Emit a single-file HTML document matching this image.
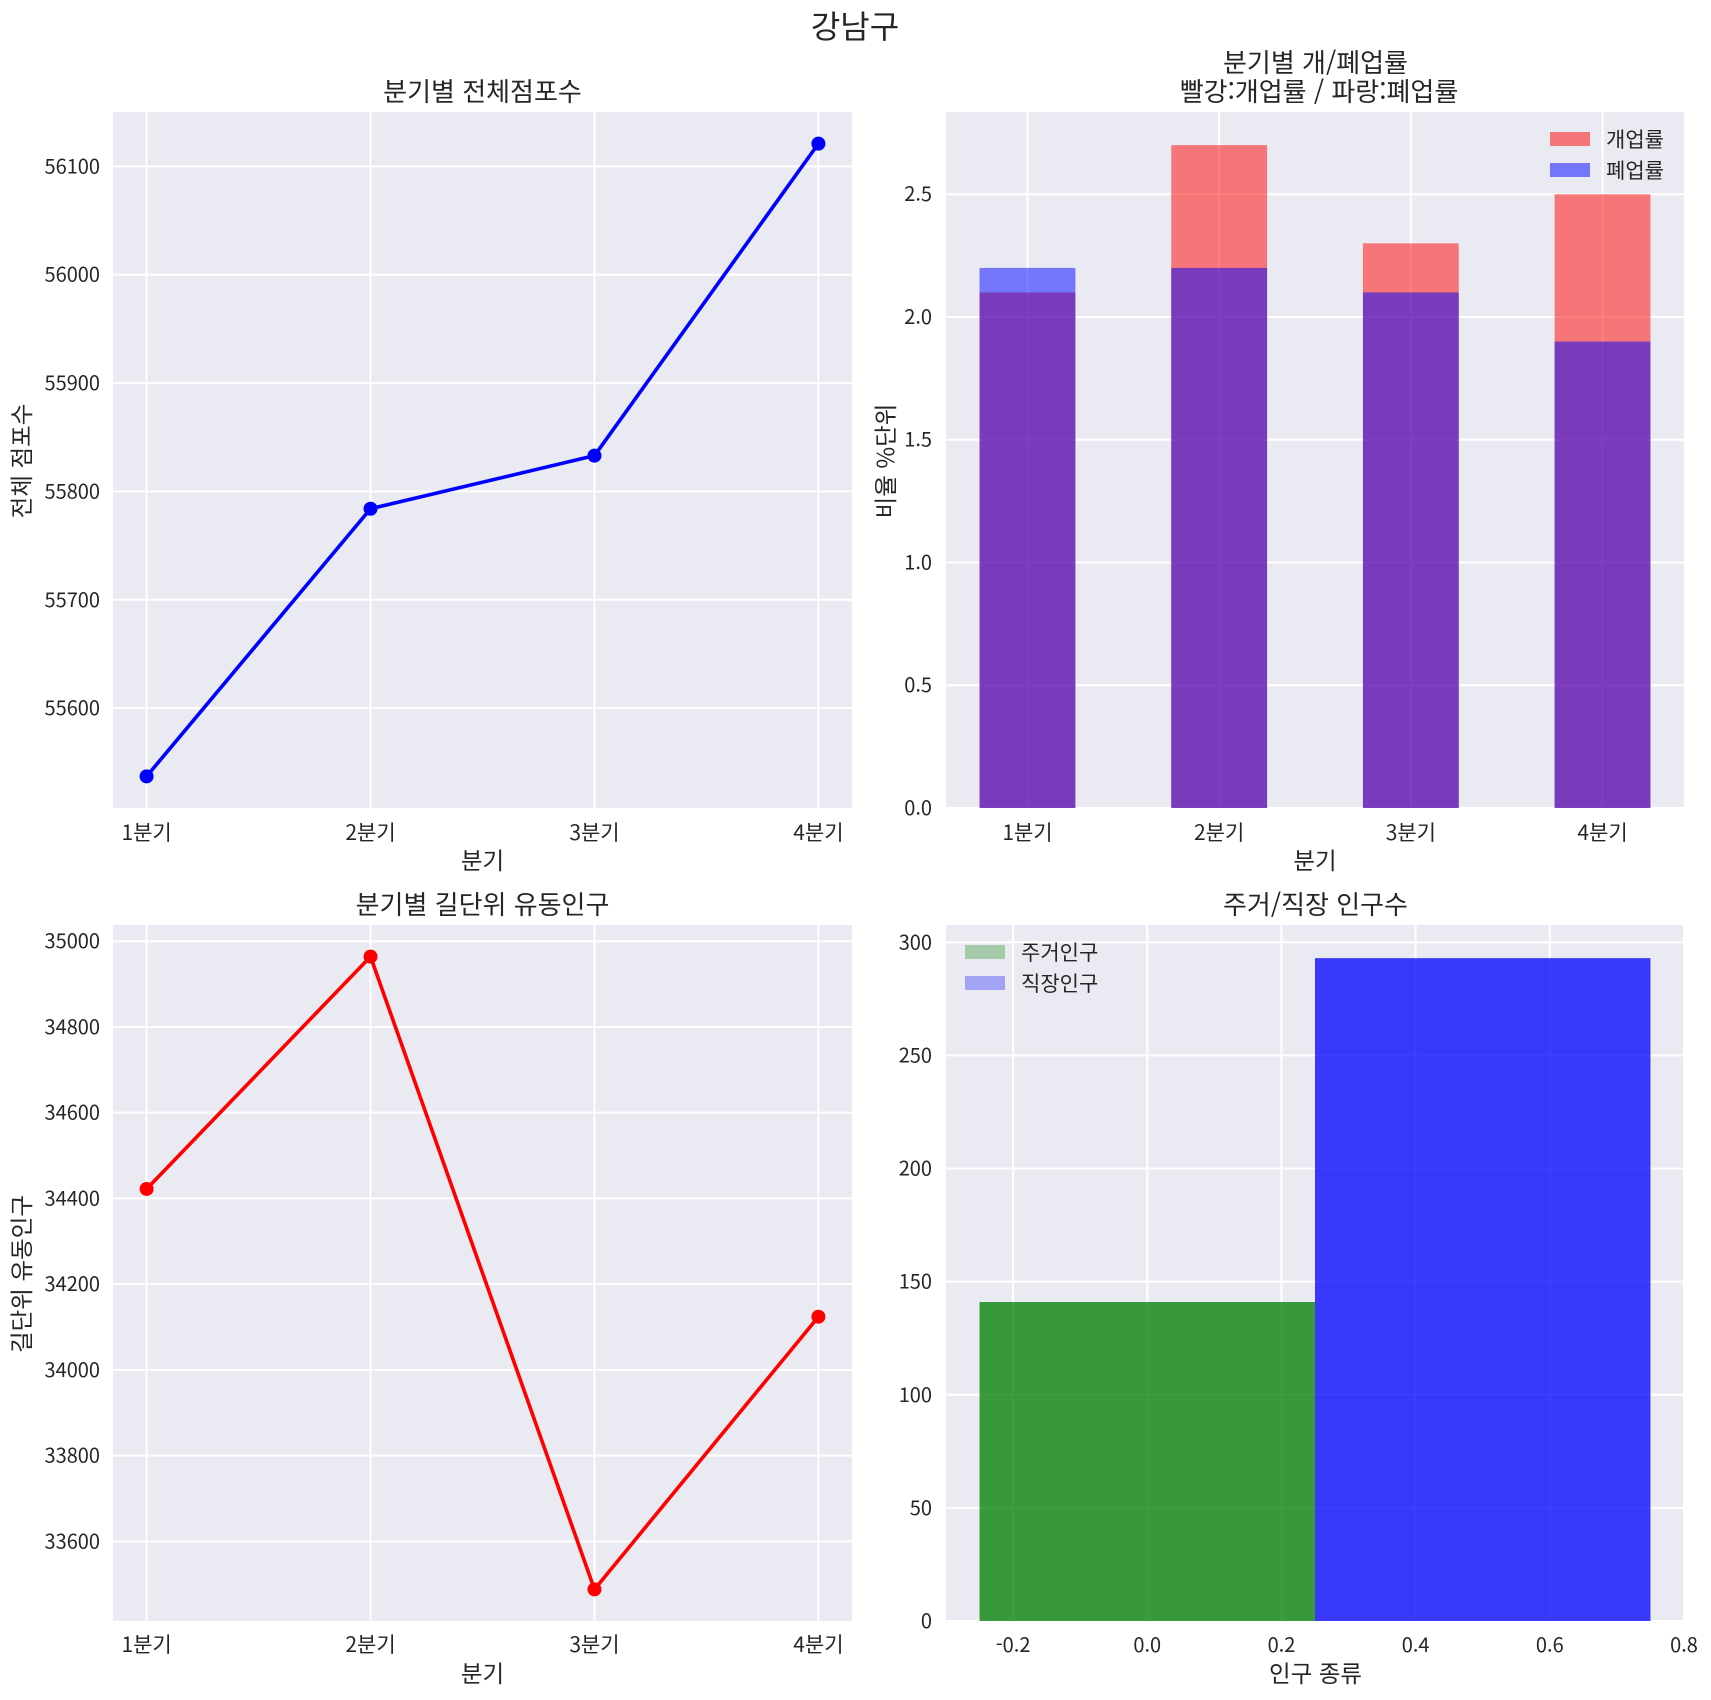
<!DOCTYPE html>
<html lang="ko">
<head>
<meta charset="utf-8">
<title>강남구</title>
<style>
html,body{margin:0;padding:0;background:#fff;}
svg{display:block;}
text{font-family:"Noto Sans CJK KR","Liberation Sans",sans-serif;fill:#262626;}
.sup{font-size:32px;text-anchor:middle;}
.title{font-size:26px;text-anchor:middle;}
.label{font-size:23.5px;text-anchor:middle;}
.tick{font-size:20px;}
.cat{font-size:21px;}
.legend{font-size:21px;}
.bg{fill:#eaeaf2;}
</style>
</head>
<body>
<svg id="fig" xmlns="http://www.w3.org/2000/svg" width="1711" height="1700" viewBox="0 0 1711 1700">
  <rect x="0" y="0" width="1711" height="1700" fill="#ffffff"/>
  <text class="sup" x="855" y="38">강남구</text>

  <g id="ax1">
    <rect class="bg" x="113" y="112" width="739" height="696"/>
    <text class="title" x="482.5" y="101">분기별 전체점포수</text>
    <text class="label" x="482.5" y="869">분기</text>
    <text class="label" transform="translate(30,461) rotate(-90)">전체 점포수</text>
  </g>

  <g id="ax2">
    <rect class="bg" x="946" y="112" width="738" height="695"/>
    <text class="title" x="1315.5" y="72">분기별 개/폐업률</text>
    <text class="title" x="1319" y="101">빨강:개업률 / 파랑:폐업률</text>
    <text class="label" x="1315" y="869">분기</text>
    <text class="label" transform="translate(894,461) rotate(-90)">비율 %단위</text>
  </g>

  <g id="ax3">
    <rect class="bg" x="113" y="925" width="739" height="696"/>
    <text class="title" x="482.5" y="914">분기별 길단위 유동인구</text>
    <text class="label" x="482.5" y="1682">분기</text>
    <text class="label" transform="translate(30,1274) rotate(-90)">길단위 유동인구</text>
  </g>

  <g id="ax4">
    <rect class="bg" x="946" y="925" width="738" height="695"/>
    <text class="title" x="1315.5" y="914">주거/직장 인구수</text>
    <text class="label" x="1315.5" y="1682">인구 종류</text>
  </g>
</svg>

<script>
// ---- chart data ----
var quarters = ['1분기', '2분기', '3분기', '4분기'];

var totalStores = [55537, 55784, 55833, 56121];
var totalStoresTicks = [55600, 55700, 55800, 55900, 56000, 56100];

var openRate = [2.1, 2.7, 2.3, 2.5];
var closeRate = [2.2, 2.2, 2.1, 1.9];
var rateTicks = [0, 0.5, 1, 1.5, 2, 2.5];
var rateTickLabels = ['0.0', '0.5', '1.0', '1.5', '2.0', '2.5'];

var footTraffic = [34422, 34964, 33488, 34124];
var footTrafficTicks = [33600, 33800, 34000, 34200, 34400, 34600, 34800, 35000];

var populationNames = ['주거인구', '직장인구'];
var populationPositions = [0, 0.5];
var populationValues = [141, 293];
var populationXTicks = [-0.2, 0, 0.2, 0.4, 0.6, 0.8];
var populationXTickLabels = ['-0.2', '0.0', '0.2', '0.4', '0.6', '0.8'];
var populationYTicks = [0, 50, 100, 150, 200, 250, 300];

// ---- helpers ----
var NS = 'http://www.w3.org/2000/svg';
function linear(d0, d1, r0, r1) {
  return function (v) { return r0 + (v - d0) * (r1 - r0) / (d1 - d0); };
}
function marginDomain(values) {
  var lo = Math.min.apply(null, values), hi = Math.max.apply(null, values);
  var m = (hi - lo) * 0.05;
  return [lo - m, hi + m];
}
function node(parent, tag, attrs) {
  var el = document.createElementNS(NS, tag);
  for (var k in attrs) { el.setAttribute(k, attrs[k]); }
  parent.appendChild(el);
  return el;
}
function vGrid(g, x, top, bottom) {
  var el = node(g, 'line', {x1: x, x2: x, y1: top, y2: bottom, stroke: '#ffffff', 'stroke-width': 2});
  
  
}
function hGrid(g, y, left, right) {
  var el = node(g, 'line', {x1: left, x2: right, y1: y, y2: y, stroke: '#ffffff', 'stroke-width': 2});
  
  
}
function xTick(g, x, y, label, cls) {
  var el = node(g, 'text', {x: x, y: y, 'class': cls, 'text-anchor': 'middle'});
  el.textContent = label;
  
  
}
function yTick(g, x, y, label) {
  var el = node(g, 'text', {x: x, y: y + 7, 'class': 'tick', 'text-anchor': 'end'});
  el.textContent = label;
  
  
}
function bar(g, x0, x1, yTop, yBase, color, opacity) {
  var el = node(g, 'rect', {x: x0, y: yTop, width: x1 - x0, height: yBase - yTop, fill: color, 'fill-opacity': opacity});
  
  
}
function lineChart(id, left, right, top, bottom, values, ticks, color, tickY, yTickX) {
  var g = document.getElementById(id);
  var dom = marginDomain(values);
  var x = linear(-0.15, 3.15, left, right);
  var y = linear(dom[0], dom[1], bottom, top);
  quarters.forEach(function (q, i) {
    vGrid(g, x(i), top, bottom);
    xTick(g, x(i), tickY, q, 'cat');
  });
  ticks.forEach(function (t) {
    hGrid(g, y(t), left, right);
    yTick(g, yTickX, y(t), String(t));
  });
  var pts = values.map(function (v, i) { return x(i) + ',' + y(v); }).join(' ');
  var path = node(g, 'polyline', {points: pts, fill: 'none', stroke: color, 'stroke-width': 3.6, 'stroke-linejoin': 'round'});
  
  
  values.forEach(function (v, i) {
    var c = node(g, 'circle', {cx: x(i), cy: y(v), r: 7, fill: color});
    
    
  });
}
function legendEntry(g, patchX, patchY, label, color, opacity) {
  var p = node(g, 'rect', {x: patchX, y: patchY, width: 40, height: 14, fill: color, 'fill-opacity': opacity});
  
  
  var t = node(g, 'text', {x: patchX + 56, y: patchY + 15, 'class': 'legend'});
  t.textContent = label;
  
  
}

// ---- chart 1 ----
lineChart('ax1', 113, 852, 112, 808, totalStores, totalStoresTicks, '#0000ff', 840, 100);

// ---- chart 2 ----
(function () {
  var g = document.getElementById('ax2');
  var left = 946, right = 1684, top = 112, bottom = 808, w = 0.5;
  var x = linear(-0.425, 3.425, left, right);
  var yMax = Math.max.apply(null, openRate.concat(closeRate)) * 1.05;
  var y = linear(0, yMax, bottom, top);
  quarters.forEach(function (q, i) {
    vGrid(g, x(i), top, 807);
    xTick(g, x(i), 840, q, 'cat');
  });
  rateTicks.forEach(function (t, i) {
    hGrid(g, y(t), left, right);
    yTick(g, 932, y(t), rateTickLabels[i]);
  });
  openRate.forEach(function (v, i) {
    bar(g, x(i - w / 2), x(i + w / 2), y(v), y(0), '#ff0000', 0.5);
  });
  closeRate.forEach(function (v, i) {
    bar(g, x(i - w / 2), x(i + w / 2), y(v), y(0), '#0000ff', 0.5);
  });
  legendEntry(g, 1550, 132, '개업률', '#ff0000', 0.5);
  legendEntry(g, 1550, 163, '폐업률', '#0000ff', 0.5);
})();

// ---- chart 3 ----
lineChart('ax3', 113, 852, 925, 1621, footTraffic, footTrafficTicks, '#ff0000', 1652, 100);

// ---- chart 4 ----
(function () {
  var g = document.getElementById('ax4');
  var left = 946, right = 1684, top = 925, bottom = 1621, w = 0.5;
  var x = linear(-0.3, 0.8, left, right);
  var yMax = Math.max.apply(null, populationValues) * 1.05;
  var y = linear(0, yMax, bottom, top);
  populationXTicks.forEach(function (t, i) {
    vGrid(g, x(t), top, 1620);
    xTick(g, x(t), 1652, populationXTickLabels[i], 'tick');
  });
  populationYTicks.forEach(function (t) {
    hGrid(g, y(t), left, right);
    yTick(g, 932, y(t), String(t));
  });
  var colors = ['#008000', '#0000ff'];
  populationValues.forEach(function (v, i) {
    var p = populationPositions[i];
    bar(g, x(p - w / 2), x(p + w / 2), y(v), y(0), colors[i], 0.76);
  });
  legendEntry(g, 965, 945, populationNames[0], '#008000', 0.3);
  legendEntry(g, 965, 976, populationNames[1], '#0000ff', 0.3);
})();
</script>
</body>
</html>
